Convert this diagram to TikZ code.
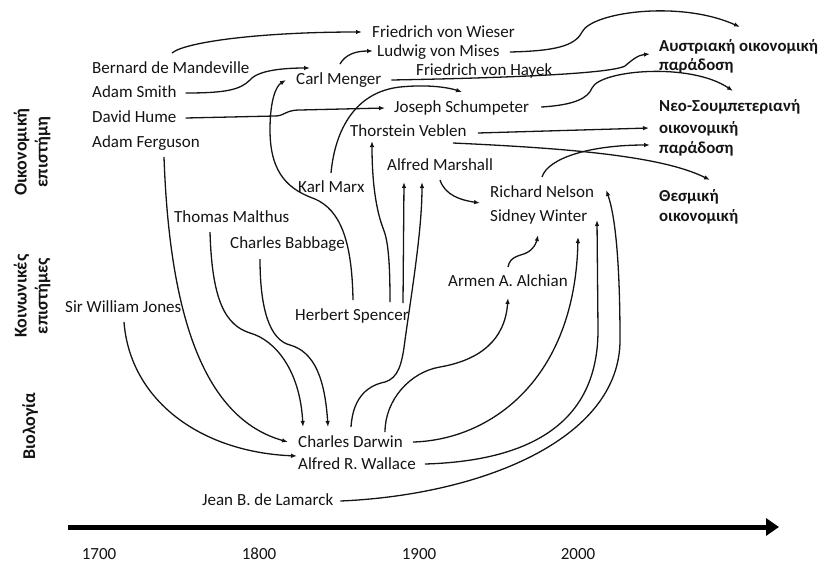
\documentclass[tikz,border=0pt]{standalone}
\usepackage{fontspec}
\setmainfont{Carlito}
\usetikzlibrary{arrows.meta,calc}
\definecolor{ink}{RGB}{20,20,20}
\begin{document}
\begin{tikzpicture}[x=1pt,y=-1pt,
  person/.style={anchor=west, inner sep=0pt, text height=11pt, text depth=3pt, font=\fontsize{17}{20}\selectfont, text=ink},
  school/.style={anchor=west, inner sep=0pt, text height=11pt, text depth=3pt, font=\bfseries\fontsize{16.8}{19}\selectfont, text=ink},
  field/.style={rotate=90, align=center, inner sep=0pt, font=\bfseries\fontsize{18}{21}\selectfont, text=ink},
  year/.style={inner sep=0pt, font=\fontsize{17}{20}\selectfont, text=ink},
  link/.style={draw=ink, line width=1.3pt, -{Latex[length=6pt,width=4.5pt]}},
]
\useasboundingbox (0,0) rectangle (821,563);

% field labels
\node[field] (econ) at (32,152) {Οικονομική\\επιστήμη};
\node[field] (soc) at (32,296) {Κοινωνικές\\επιστήμες};
\node[field] (bio) at (30,426) {Βιολογία};

% people
\node[person] (wieser) at (372,33) {Friedrich von Wieser};
\node[person] (mises) at (377,52) {Ludwig von Mises};
\node[person] (mandeville) at (92,69) {Bernard de Mandeville};
\node[person] (hayek) at (416,71) {Friedrich von Hayek};
\node[person] (menger) at (296,80) {Carl Menger};
\node[person] (smith) at (92,93) {Adam Smith};
\node[person] (schumpeter) at (394,108) {Joseph Schumpeter};
\node[person] (hume) at (92,118) {David Hume};
\node[person] (veblen) at (350,132) {Thorstein Veblen};
\node[person] (ferguson) at (92,143) {Adam Ferguson};
\node[person] (marshall) at (387,166) {Alfred Marshall};
\node[person] (marx) at (298,188) {Karl Marx};
\node[person] (nelson) at (490,193) {Richard Nelson};
\node[person] (winter) at (490,217) {Sidney Winter};
\node[person] (malthus) at (174,218) {Thomas Malthus};
\node[person] (babbage) at (230,244) {Charles Babbage};
\node[person] (alchian) at (448,282) {Armen A. Alchian};
\node[person] (jones) at (65,308) {Sir William Jones};
\node[person] (spencer) at (295,316) {Herbert Spencer};
\node[person] (darwin) at (298,443) {Charles Darwin};
\node[person] (wallace) at (298,465) {Alfred R. Wallace};
\node[person] (lamarck) at (202,501) {Jean B. de Lamarck};

% schools
\node[school] (aust1) at (659,47) {Αυστριακή οικονομική};
\node[school] (aust2) at (659,66) {παράδοση};
\node[school] (neo1) at (659,107) {Νεο-Σουμπετεριανή};
\node[school] (neo2) at (659,129) {οικονομική};
\node[school] (neo3) at (659,149) {παράδοση};
\node[school] (thes1) at (659,197) {Θεσμική};
\node[school] (thes2) at (659,217) {οικονομική};

% years
\node[year] (y1700) at (99,554) {1700};
\node[year] (y1800) at (259,554) {1800};
\node[year] (y1900) at (419,554) {1900};
\node[year] (y2000) at (578,554) {2000};

% timeline
\coordinate (t0) at (68,527);
\coordinate (t1) at (779,527);
\draw[line width=5pt, draw=black, -{Triangle[length=13pt,width=17pt]}] (t0) -- (t1);

% connectors
\draw[link] ($(mandeville.west)+(80,-16)$) .. controls (185,42) and (260,32) .. ($(wieser.west)+(-10,-1)$);
\draw[link] ($(smith.east)+(9,0)$) .. controls (225,93) and (240,90) .. (250,80) .. controls (258,70) and (285,68) .. ($(menger.west)+(14,-12)$);
\draw[link] ($(menger.west)+(44,-16)$) .. controls (345,55) and (355,51) .. ($(mises.west)+(-4,-1)$);
\draw[link] ($(mises.east)+(10,0)$) .. controls (555,51) and (575,46) .. (582,32) .. controls (592,12) and (680,0) .. ($(aust1.west)+(81,-20)$);
\draw[link] ($(menger.east)+(10,0)$) .. controls (500,78) and (610,74) .. (625,66) .. controls (632,60) and (638,55) .. ($(aust1.west)+(-9,7)$);
\draw[link] ($(marx.west)+(33,-15)$) .. controls (335,130) and (355,92) .. (400,87) .. controls (430,84) and (450,88) .. ($(schumpeter.west)+(68,-16)$);
\draw[link] ($(hume.east)+(9,0)$) -- (275,116) .. controls (285,116) and (285,110) .. (300,110) -- ($(schumpeter.west)+(-9,0)$);
\draw[link] ($(schumpeter.east)+(12,-1)$) .. controls (575,105) and (588,98) .. (592,88) .. controls (600,70) and (690,62) .. ($(neo1.west)+(74,-16)$);
\draw[link] ($(veblen.east)+(11,1)$) -- ($(neo2.west)+(-10,-1)$);
\draw[link] ($(veblen.west)+(103,11)$) .. controls (560,148) and (660,155) .. ($(thes1.west)+(51,-17)$);
\draw[link] ($(nelson.west)+(52,-16)$) .. controls (548,158) and (590,145) .. ($(neo3.west)+(-9,-4)$);
\draw[link] ($(marshall.west)+(53,14)$) .. controls (445,195) and (460,200) .. ($(nelson.west)+(-10,10)$);
\draw[link] ($(ferguson.west)+(72,14)$) .. controls (170,330) and (210,420) .. ($(darwin.west)+(-10,-1)$);
\draw[link] ($(jones.west)+(59,14)$) .. controls (130,400) and (200,452) .. ($(wallace.west)+(-1,-9)$);
\draw[link] ($(malthus.west)+(36,14)$) .. controls (212,300) and (225,325) .. (250,333) .. controls (275,340) and (300,370) .. ($(darwin.west)+(5,-16)$);
\draw[link] ($(babbage.west)+(30,15)$) .. controls (260,310) and (270,340) .. (290,345) .. controls (315,352) and (325,380) .. ($(darwin.west)+(30,-16)$);
\draw[link] ($(spencer.west)+(58,-16)$) .. controls (352,240) and (340,210) .. (315,199) .. controls (290,190) and (270,175) .. (270,130) .. controls (270,100) and (276,86) .. ($(menger.west)+(-10,0)$);
\draw[link] ($(spencer.west)+(95,-14)$) .. controls (390,260) and (388,240) .. (383,228) .. controls (378,215) and (372,190) .. ($(veblen.west)+(22,9)$);
\draw[link] ($(spencer.west)+(108,-13)$) -- ($(marshall.west)+(17,16)$);
\draw[link] ($(darwin.west)+(53,-16)$) .. controls (353,395) and (370,385) .. (385,382) .. controls (398,378) and (402,365) .. (405,340) .. controls (412,290) and (422,230) .. ($(marshall.west)+(35,16)$);
\draw[link] ($(darwin.west)+(87,-11)$) .. controls (385,400) and (410,372) .. (440,367) .. controls (480,360) and (505,340) .. ($(alchian.west)+(60,16)$);
\draw[link] ($(darwin.east)+(10,-1)$) .. controls (490,440) and (575,380) .. ($(winter.west)+(88,20)$);
\draw[link] ($(wallace.east)+(9,-1)$) .. controls (560,460) and (598,400) .. (598,330) -- ($(winter.west)+(107,3)$);
\draw[link] ($(lamarck.east)+(7,0)$) .. controls (480,495) and (620,440) .. (620,340) .. controls (620,260) and (615,215) .. ($(nelson.east)+(12,-3)$);
\draw[link] ($(alchian.west)+(60,-15)$) .. controls (510,255) and (522,256) .. (528,252) .. controls (535,248) and (537,240) .. ($(winter.west)+(48,18)$);
\end{tikzpicture}
\end{document}
